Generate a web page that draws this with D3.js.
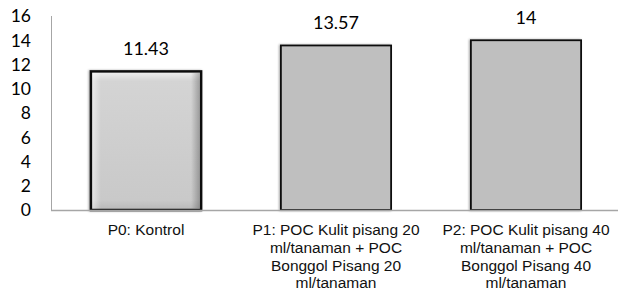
<!DOCTYPE html>
<html>
<head>
<meta charset="utf-8">
<script src="https://cdn.jsdelivr.net/npm/d3@7"></script>
<style>
  html, body { margin: 0; padding: 0; background: #fff; }
  svg { display: block; }
</style>
</head>
<body>
<svg id="chart" width="618" height="291"></svg>
<script>
const categories = [
  "P0: Kontrol",
  "P1: POC Kulit pisang 20 ml/tanaman + POC Bonggol Pisang 20 ml/tanaman",
  "P2: POC Kulit pisang 40 ml/tanaman + POC Bonggol Pisang 40 ml/tanaman"
];
const values = [11.43, 13.57, 14];
const valueLabels = ["11.43", "13.57", "14"];
const yTicks = [0, 2, 4, 6, 8, 10, 12, 14, 16];

const width = 618;
const height = 291;
const margin = { top: 16, right: -3, bottom: 81, left: 51 };

const svg = d3.select("#chart");
const defs = svg.append("defs");

// soft shadow round the bars
const shadow = defs.append("filter").attr("id", "shadow")
  .attr("x", "-10%").attr("y", "-10%").attr("width", "120%").attr("height", "120%");
shadow.append("feDropShadow")
  .attr("dx", -1).attr("dy", 0).attr("stdDeviation", 1.2)
  .attr("flood-color", "#000").attr("flood-opacity", 0.35);

// bevel look for the first bar
const gV = defs.append("linearGradient").attr("id", "bevelV")
  .attr("x1", 0).attr("y1", 0).attr("x2", 0).attr("y2", 1);
gV.append("stop").attr("offset", "0%").attr("stop-color", "#f2f2f2");
gV.append("stop").attr("offset", "7%").attr("stop-color", "#d4d4d4");
gV.append("stop").attr("offset", "93%").attr("stop-color", "#c9c9c9");
gV.append("stop").attr("offset", "100%").attr("stop-color", "#b8b8b8");
const gH = defs.append("linearGradient").attr("id", "bevelH")
  .attr("x1", 0).attr("y1", 0).attr("x2", 1).attr("y2", 0);
gH.append("stop").attr("offset", "0%").attr("stop-color", "#fff").attr("stop-opacity", 0.5);
gH.append("stop").attr("offset", "8%").attr("stop-color", "#fff").attr("stop-opacity", 0);
gH.append("stop").attr("offset", "92%").attr("stop-color", "#000").attr("stop-opacity", 0);
gH.append("stop").attr("offset", "100%").attr("stop-color", "#000").attr("stop-opacity", 0.25);

const x = d3.scaleBand()
  .domain(categories)
  .range([margin.left, width - margin.right])
  .paddingInner(0.42)
  .paddingOuter(0.21);

const y = d3.scaleLinear()
  .domain([0, 16])
  .range([height - margin.bottom, margin.top]);

// axis lines
svg.append("line")
  .attr("x1", margin.left + 0.5).attr("x2", margin.left + 0.5)
  .attr("y1", y(16)).attr("y2", y(0))
  .attr("stroke", "#a6a6a6").attr("stroke-width", 1);

// bars
const bars = svg.append("g");
bars.selectAll("rect.bar")
  .data(values)
  .join("rect")
  .attr("class", "bar")
  .attr("x", (d, i) => x(categories[i]))
  .attr("y", d => y(d))
  .attr("width", x.bandwidth())
  .attr("height", d => y(0) - y(d))
  .attr("fill", (d, i) => i === 0 ? "url(#bevelV)" : "#bfbfbf")
  .attr("stroke", "#111")
  .attr("stroke-width", (d, i) => i === 0 ? 2.5 : 1.8)
  .attr("filter", "url(#shadow)");

// overlay for the bevel edges of the first bar
bars.append("rect")
  .attr("x", x(categories[0]) + 1.5)
  .attr("y", y(values[0]) + 1.5)
  .attr("width", x.bandwidth() - 3)
  .attr("height", y(0) - y(values[0]) - 3)
  .attr("fill", "url(#bevelH)");

svg.append("line")
  .attr("x1", margin.left).attr("x2", width)
  .attr("y1", y(0) + 0.5).attr("y2", y(0) + 0.5)
  .attr("stroke", "#a6a6a6").attr("stroke-width", 1.5);

// y tick labels
svg.append("g")
  .selectAll("text")
  .data(yTicks)
  .join("text")
  .attr("x", 31)
  .attr("y", d => y(d))
  .attr("dy", "0.36em")
  .attr("text-anchor", "end")
  .attr("font-family", "Lato, sans-serif")
  .attr("font-size", 17.5)
  .attr("fill", "#000")
  .text(d => d);

// value labels
svg.append("g")
  .selectAll("text")
  .data(values)
  .join("text")
  .attr("x", (d, i) => x(categories[i]) + x.bandwidth() / 2)
  .attr("y", d => y(d) - 16)
  .attr("text-anchor", "middle")
  .attr("font-family", "Lato, sans-serif")
  .attr("font-size", 18)
  .attr("fill", "#000")
  .text((d, i) => valueLabels[i]);

// category labels, wrapped to the band
const catG = svg.append("g")
  .selectAll("text")
  .data(categories)
  .join("text")
  .attr("x", d => x(d) + x.bandwidth() / 2)
  .attr("y", 235)
  .attr("text-anchor", "middle")
  .attr("font-family", "'Liberation Sans', Arial, sans-serif")
  .attr("font-size", 15.5)
  .attr("fill", "#111");

catG.each(function(d) {
  const t = d3.select(this);
  const cx = t.attr("x");
  const words = d.split(" ");
  let line = [];
  let lineNo = 0;
  let tspan = t.append("tspan").attr("x", cx).attr("dy", 0);
  words.forEach(w => {
    line.push(w);
    tspan.text(line.join(" "));
    if (tspan.node().getComputedTextLength() > 186 && line.length > 1) {
      line.pop();
      tspan.text(line.join(" "));
      line = [w];
      lineNo++;
      tspan = t.append("tspan").attr("x", cx).attr("dy", 17.8).text(w);
    }
  });
});
</script>
</body>
</html>
